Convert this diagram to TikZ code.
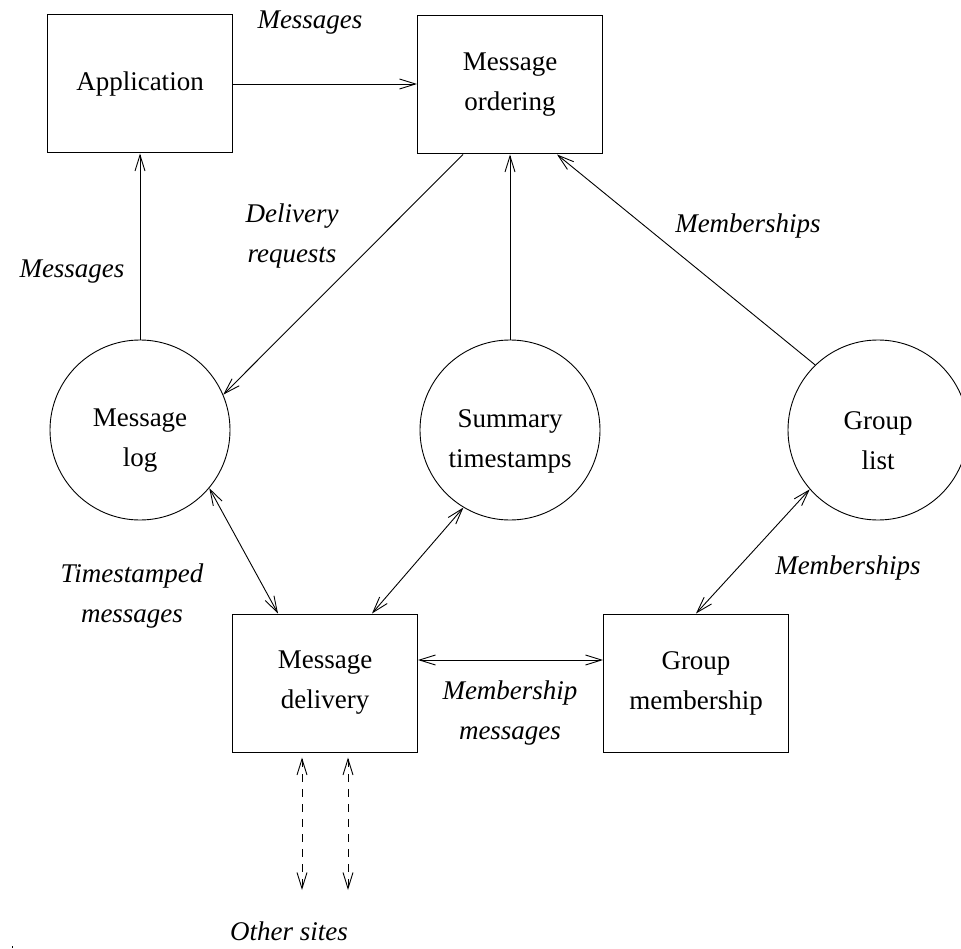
\documentclass[tikz,border=0pt]{standalone}
\usepackage{fontspec}
\setmainfont{Liberation Serif}
\usetikzlibrary{arrows.meta}
\tikzset{
  txt/.style={font=\fontsize{27}{40}\selectfont, align=center, inner sep=0pt},
  lbl/.style={txt, font=\fontsize{27}{40}\selectfont\itshape},
  box/.style={draw, line width=1pt, rectangle, minimum width=185pt, minimum height=138pt, txt},
  blob/.style={draw, line width=0.9pt, circle, minimum size=180pt, inner sep=0pt},
  conn/.style={line width=0.9pt, arrows={-Straight Barb[length=16pt,width=10pt]}},
  conn2/.style={line width=0.9pt, arrows={Straight Barb[length=16pt,width=10pt]-Straight Barb[length=16pt,width=10pt]}},
  dconn/.style={conn2, dash pattern=on 8pt off 7pt}
}
\begin{document}
\begin{tikzpicture}[x=1pt,y=-1pt]
\useasboundingbox (0,0) rectangle (961,949);
\node[box] (app) at (140,84) {Application};
\node[box] (ord) at (510,85) {Message\\ordering};
\node[blob] (log) at (140,430) {};
\node[blob] (sum) at (510,430) {};
\node[blob] (gl) at (878,430) {};
\node[txt] (logt) at (140,441) {Message\\log};
\node[txt] (sumt) at (510,441) {Summary\\timestamps};
\node[txt] (glt) at (878,441) {Group\\list};
\node[box] (del) at (325,683) {Message\\delivery};
\node[box] (mem) at (696,683) {Group\\membership};
\coordinate (o1) at (302,890);
\coordinate (o2) at (348,890);

\draw[conn] (app.east) -- (ord.west |- app.east);
\draw[conn] (log.north) -- (app.south);
\draw[conn] ([xshift=-47pt]ord.south) -- (log.23);
\draw[conn] (sum.north) -- (ord.south);
\draw[conn] (gl.134) -- ([xshift=47pt]ord.south);
\draw[conn2] (log.-40) -- ([xshift=-47pt]del.north);
\draw[conn2] (sum.-121) -- ([xshift=47pt]del.north);
\draw[conn2] (gl.-139) -- (mem.north);
\draw[conn2] ([yshift=23pt]del.east) -- ([yshift=23pt]mem.west);
\draw[dconn] ([xshift=-23pt,yshift=-5pt]del.south) -- (o1);
\draw[dconn] ([xshift=23pt,yshift=-5pt]del.south) -- (o2);

\node[lbl] (l1) at (310,23) {Messages};
\node[lbl] (l2) at (292,236) {Delivery\\requests};
\node[lbl] (l3) at (72,272) {Messages};
\node[lbl] (l4) at (748,226) {Memberships};
\node[lbl] (l5) at (132,596) {Timestamped\\messages};
\node[lbl] (l6) at (848,568) {Memberships};
\node[lbl] (l7) at (510,713) {Membership\\messages};
\node[lbl, anchor=base] (l8) at (289,940) {Other sites};
\fill (11.5,946) rectangle (12.5,948);
\end{tikzpicture}
\end{document}
